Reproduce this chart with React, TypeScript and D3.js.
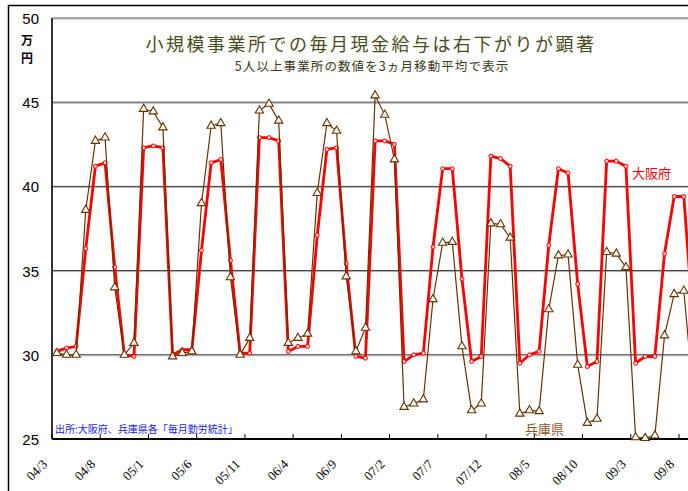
import * as d3 from "d3";

// 月（3ヵ月移動平均の対象月）
const months = [
  "04/3", "04/4", "04/5", "04/6", "04/7", "04/8", "04/9", "04/10", "04/11", "04/12",
  "05/1", "05/2", "05/3", "05/4", "05/5", "05/6", "05/7", "05/8", "05/9", "05/10", "05/11", "05/12",
  "06/1", "06/2", "06/3", "06/4", "06/5", "06/6", "06/7", "06/8", "06/9", "06/10", "06/11", "06/12",
  "07/1", "07/2", "07/3", "07/4", "07/5", "07/6", "07/7", "07/8", "07/9", "07/10", "07/11", "07/12",
  "08/1", "08/2", "08/3", "08/4", "08/5", "08/6", "08/7", "08/8", "08/9", "08/10", "08/11", "08/12",
  "09/1", "09/2", "09/3", "09/4", "09/5", "09/6", "09/7", "09/8", "09/9",
];

// 大阪府（万円）
const osaka = [
  30.2, 30.4, 30.5, 36.3, 41.2, 41.4, 35.2, 30.0, 29.9, 42.3,
  42.4, 42.3, 30.0, 30.3, 30.3, 36.2, 41.4, 41.6, 35.6, 30.1, 30.1, 42.9,
  42.9, 42.7, 30.2, 30.5, 30.5, 37.1, 42.2, 42.3, 35.4, 29.9, 29.8, 42.7,
  42.7, 42.5, 29.6, 30.0, 30.1, 36.4, 41.05, 41.05, 34.5, 29.6, 29.9, 41.8,
  41.65, 41.2, 29.5, 30.0, 30.2, 36.5, 41.05, 40.8, 34.2, 29.3, 29.6, 41.5,
  41.5, 41.2, 29.5, 29.9, 29.9, 36.0, 39.4, 39.4, 31.7,
];

// 兵庫県（万円）
const hyogo = [
  30.1, 30.0, 30.0, 38.6, 42.7, 42.9, 34.0, 30.0, 30.7, 44.6,
  44.45, 43.5, 29.9, 30.1, 30.2, 39.0, 43.6, 43.75, 34.6, 30.0, 31.0, 44.5,
  44.9, 43.9, 30.7, 31.0, 31.25, 39.6, 43.75, 43.3, 34.65, 30.2, 31.6, 45.4,
  44.25, 41.6, 26.9, 27.1, 27.35, 33.3, 36.65, 36.7, 30.5, 26.7, 27.1, 37.8,
  37.75, 36.95, 26.5, 26.7, 26.65, 32.7, 35.9, 35.95, 29.4, 25.95, 26.2, 36.1,
  36.0, 35.2, 25.1, 25.05, 25.2, 31.15, 33.6, 33.8, 27.5,
];

const tickLabels = [
  "04/3", "04/8", "05/1", "05/6", "05/11", "06/4", "06/9",
  "07/2", "07/7", "07/12", "08/5", "08/10", "09/3", "09/8",
];
const yTicks = [25, 30, 35, 40, 45, 50];

const W = 688;
const H = 491;
const margin = { top: 18, left: 52, bottom: 439 };
const step = 9.646;
const jp = "'Noto Sans CJK JP', sans-serif";

export default function App() {
  const x = d3
    .scaleBand<string>()
    .domain(months)
    .range([margin.left, margin.left + months.length * step]);
  const cx = (i: number) => (x(months[i]) as number) + x.bandwidth() / 2;

  const y = d3.scaleLinear().domain([25, 50]).range([margin.bottom, margin.top]);

  const line = d3
    .line<number>()
    .x((d, i) => cx(i))
    .y((d) => y(d));

  const tri = d3.symbol(d3.symbolTriangle, 30)() as string;

  return (
    <svg
      width={W}
      height={H}
      style={{ position: "absolute", left: 0, top: 0, background: "#fff" }}
    >
      {/* 外枠 */}
      <rect x={8.5} y={5.5} width={720} height={520} fill="#fff" stroke="#000" strokeWidth={1.5} />

      {/* グリッド */}
      {yTicks.slice(1, -1).map((t) => (
        <g key={t}>
          <line x1={margin.left} x2={W} y1={y(t)} y2={y(t)} stroke="#333" strokeWidth={1} />
          <line x1={margin.left} x2={W} y1={y(t) + 1} y2={y(t) + 1} stroke="#aaa" strokeWidth={1} />
        </g>
      ))}
      <line x1={margin.left} x2={W} y1={y(50)} y2={y(50)} stroke="#555" strokeWidth={1} />
      <line x1={margin.left} x2={W} y1={y(50) + 1} y2={y(50) + 1} stroke="#aaa" strokeWidth={1} />

      {/* 軸 */}
      <line x1={margin.left} x2={margin.left} y1={margin.top} y2={margin.bottom} stroke="#333" strokeWidth={2} />
      <line x1={margin.left} x2={W} y1={margin.bottom} y2={margin.bottom} stroke="#000" strokeWidth={2} />

      {tickLabels.map((t) => {
        const tx = x(t) as number;
        return (
          <g key={t}>
            <line x1={tx} x2={tx} y1={margin.bottom} y2={margin.bottom - 5} stroke="#000" strokeWidth={1} />
            <text
              transform={`translate(${tx - 4},${margin.bottom + 26}) rotate(-45)`}
              textAnchor="end"
              fontFamily="'Liberation Serif', serif"
              fontSize={13}
              fill="#000"
            >
              {t}
            </text>
          </g>
        );
      })}

      {yTicks.map((t) => (
        <text
          key={t}
          x={39}
          y={y(t) + 6}
          textAnchor="end"
          fontFamily="'Liberation Sans', Arial, sans-serif"
          fontSize={15}
          fill="#000"
        >
          {t}
        </text>
      ))}
      <text x={27} y={45} textAnchor="middle" fontFamily={jp} fontSize={12} fontWeight="bold" fill="#000">万</text>
      <text x={27} y={63} textAnchor="middle" fontFamily={jp} fontSize={12} fontWeight="bold" fill="#000">円</text>

      {/* 大阪府 */}
      <path d={line(osaka) as string} fill="none" stroke="#ff0000" strokeWidth={2.8} strokeLinejoin="round" />
      {osaka.map((d, i) => (
        <circle key={i} cx={cx(i)} cy={y(d)} r={2} fill="#ffd0d0" stroke="#ff0000" strokeWidth={1} />
      ))}

      {/* 兵庫県 */}
      <path d={line(hyogo) as string} fill="none" stroke="#663300" strokeWidth={1.2} />
      {hyogo.map((d, i) => (
        <path
          key={i}
          d={tri}
          transform={`translate(${cx(i)},${y(d)})`}
          fill="#fff"
          stroke="#663300"
          strokeWidth={1.1}
        />
      ))}

      {/* タイトル */}
      <text x={371} y={51} textAnchor="middle" fontFamily={jp} fontSize={18} letterSpacing={2.5} fill="#4b4b1e">
        小規模事業所での毎月現金給与は右下がりが顕著
      </text>
      <text x={372} y={71} textAnchor="middle" fontFamily={jp} fontSize={12.5} letterSpacing={1.1} fill="#3a3a20">
        5人以上事業所の数値を3ヵ月移動平均で表示
      </text>

      {/* 凡例ラベル */}
      <text x={632} y={178} fontFamily={jp} fontSize={13} fill="#ff0000">大阪府</text>
      <text x={525} y={434} fontFamily={jp} fontSize={13} fill="#8b5a2b">兵庫県</text>

      <text x={55} y={433} fontFamily={jp} fontSize={10} fill="#2222ee">
        出所:大阪府、兵庫県各「毎月勤労統計」
      </text>
    </svg>
  );
}
